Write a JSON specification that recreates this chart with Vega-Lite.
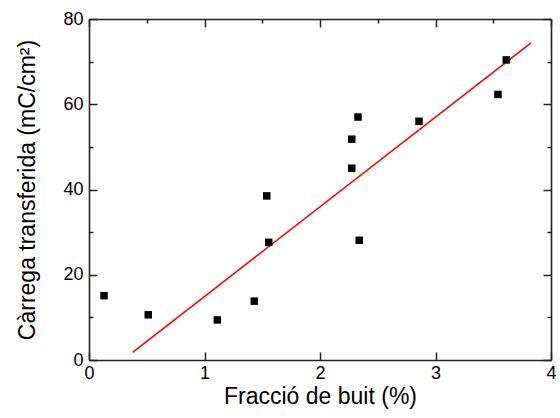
{
  "$schema": "https://vega.github.io/schema/vega-lite/v6.json",
  "width": 462,
  "height": 341,
  "autosize": {"type": "none"},
  "padding": {"left": 89, "top": 19, "right": 9, "bottom": 58},
  "background": "white",
  "config": {
    "view": {"stroke": null},
    "font": "Liberation Sans",
    "axis": {
      "grid": false,
      "domainColor": "#222",
      "domainWidth": 1.6,
      "tickColor": "#222",
      "tickWidth": 1.5,
      "tickSize": -8,
      "labelColor": "#000",
      "titleColor": "#000",
      "labelFont": "Liberation Sans",
      "titleFont": "Liberation Sans",
      "titleFontWeight": "normal",
      "labelFontSize": 18,
      "titleFontSize": 23,
      "labelFlush": false,
      "labelOverlap": false
    }
  },
  "datasets": {
    "pts": [
      {"x": 0.13, "y": 15.1},
      {"x": 0.513, "y": 10.6},
      {"x": 1.111, "y": 9.4},
      {"x": 1.431, "y": 13.8},
      {"x": 1.539, "y": 38.5},
      {"x": 1.556, "y": 27.6},
      {"x": 2.275, "y": 51.8},
      {"x": 2.275, "y": 45.0},
      {"x": 2.329, "y": 57.0},
      {"x": 2.34, "y": 28.1},
      {"x": 2.857, "y": 56.0},
      {"x": 3.541, "y": 62.3},
      {"x": 3.613, "y": 70.4}
    ],
    "fit": [
      {"x": 0.378, "y": 1.8},
      {"x": 3.827, "y": 74.4}
    ]
  },
  "layer": [
    {
      "data": {"name": "fit"},
      "mark": {"type": "line", "color": "#ff0000", "strokeWidth": 1.5},
      "encoding": {
        "x": {
          "field": "x", "type": "quantitative",
          "scale": {"domain": [0, 4], "nice": false, "zero": false},
          "axis": {
            "orient": "top", "labels": false, "title": null,
            "values": [0, 0.5, 1, 1.5, 2, 2.5, 3, 3.5, 4],
            "tickDash": {"condition": {"test": "datum.value % 1 === 0", "value": [8, 0]}, "value": [4, 20]}
          }
        },
        "y": {
          "field": "y", "type": "quantitative",
          "scale": {"domain": [0, 80], "nice": false, "zero": false},
          "axis": {
            "orient": "right", "labels": false, "title": null,
            "values": [0, 10, 20, 30, 40, 50, 60, 70, 80],
            "tickDash": {"condition": {"test": "datum.value % 20 === 0", "value": [8, 0]}, "value": [4, 20]}
          }
        }
      }
    },
    {
      "data": {"name": "pts"},
      "mark": {"type": "square", "size": 56, "color": "#000", "opacity": 1},
      "encoding": {
        "x": {
          "field": "x", "type": "quantitative",
          "scale": {"domain": [0, 4], "nice": false, "zero": false},
          "axis": {
            "orient": "bottom",
            "title": "Fracció de buit (%)",
            "values": [0, 0.5, 1, 1.5, 2, 2.5, 3, 3.5, 4],
            "format": "d",
            "labelExpr": "datum.value % 1 === 0 ? datum.label : ''",
            "tickDash": {"condition": {"test": "datum.value % 1 === 0", "value": [8, 0]}, "value": [4, 20]},
            "labelPadding": 12,
            "titlePadding": 3
          }
        },
        "y": {
          "field": "y", "type": "quantitative",
          "scale": {"domain": [0, 80], "nice": false, "zero": false},
          "axis": {
            "orient": "left",
            "title": "Càrrega transferida (mC/cm²)",
            "values": [0, 10, 20, 30, 40, 50, 60, 70, 80],
            "labelExpr": "datum.value % 20 === 0 ? datum.label : ''",
            "tickDash": {"condition": {"test": "datum.value % 20 === 0", "value": [8, 0]}, "value": [4, 20]},
            "labelPadding": 14,
            "titlePadding": 23
          }
        }
      }
    }
  ],
  "resolve": {"axis": {"x": "independent", "y": "independent"}}
}
